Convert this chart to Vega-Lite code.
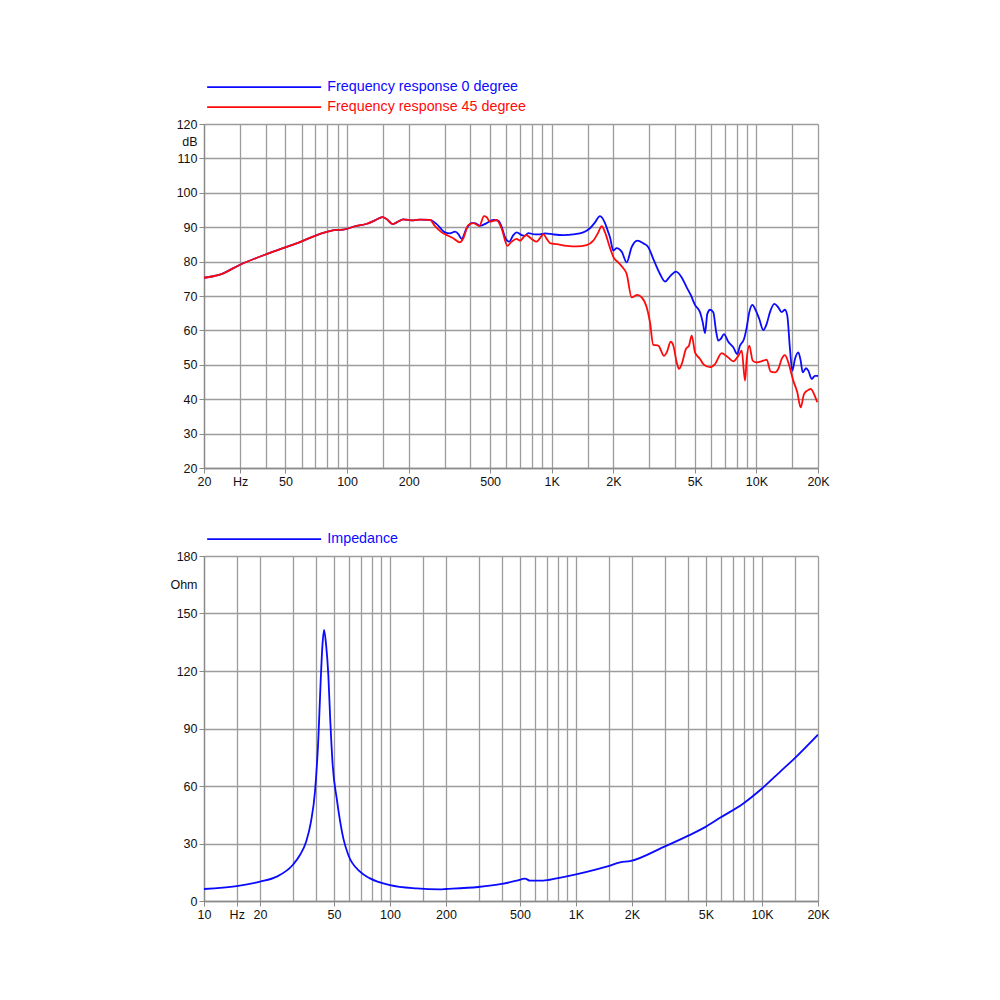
{
  "$schema": "https://vega.github.io/schema/vega-lite/v6.json",
  "padding": {"left": 169, "top": 80, "right": 5, "bottom": 5},
  "background": "white",
  "datasets": {
    "fr": [
      {"f": 20, "db": 75.3, "series": "Frequency response 0 degree"},
      {"f": 23.9, "db": 76.2, "series": "Frequency response 0 degree"},
      {"f": 30, "db": 79.1, "series": "Frequency response 0 degree"},
      {"f": 39.7, "db": 82.0, "series": "Frequency response 0 degree"},
      {"f": 50.3, "db": 84.2, "series": "Frequency response 0 degree"},
      {"f": 60, "db": 85.9, "series": "Frequency response 0 degree"},
      {"f": 69.7, "db": 87.5, "series": "Frequency response 0 degree"},
      {"f": 80.4, "db": 88.7, "series": "Frequency response 0 degree"},
      {"f": 89, "db": 89.2, "series": "Frequency response 0 degree"},
      {"f": 95.9, "db": 89.3, "series": "Frequency response 0 degree"},
      {"f": 111, "db": 90.4, "series": "Frequency response 0 degree"},
      {"f": 125, "db": 91.0, "series": "Frequency response 0 degree"},
      {"f": 137, "db": 92.0, "series": "Frequency response 0 degree"},
      {"f": 149, "db": 92.9, "series": "Frequency response 0 degree"},
      {"f": 156, "db": 92.4, "series": "Frequency response 0 degree"},
      {"f": 167, "db": 90.9, "series": "Frequency response 0 degree"},
      {"f": 175, "db": 91.4, "series": "Frequency response 0 degree"},
      {"f": 188, "db": 92.3, "series": "Frequency response 0 degree"},
      {"f": 211, "db": 92.0, "series": "Frequency response 0 degree"},
      {"f": 227, "db": 92.2, "series": "Frequency response 0 degree"},
      {"f": 254, "db": 92.1, "series": "Frequency response 0 degree"},
      {"f": 274, "db": 90.9, "series": "Frequency response 0 degree"},
      {"f": 301, "db": 88.5, "series": "Frequency response 0 degree"},
      {"f": 318, "db": 88.2, "series": "Frequency response 0 degree"},
      {"f": 337, "db": 88.7, "series": "Frequency response 0 degree"},
      {"f": 350, "db": 88.0, "series": "Frequency response 0 degree"},
      {"f": 363, "db": 86.6, "series": "Frequency response 0 degree"},
      {"f": 384, "db": 89.7, "series": "Frequency response 0 degree"},
      {"f": 406, "db": 91.2, "series": "Frequency response 0 degree"},
      {"f": 422, "db": 91.2, "series": "Frequency response 0 degree"},
      {"f": 446, "db": 90.4, "series": "Frequency response 0 degree"},
      {"f": 481, "db": 91.2, "series": "Frequency response 0 degree"},
      {"f": 518, "db": 92.1, "series": "Frequency response 0 degree"},
      {"f": 548, "db": 91.9, "series": "Frequency response 0 degree"},
      {"f": 570, "db": 90.0, "series": "Frequency response 0 degree"},
      {"f": 591, "db": 87.1, "series": "Frequency response 0 degree"},
      {"f": 620, "db": 85.8, "series": "Frequency response 0 degree"},
      {"f": 649, "db": 87.7, "series": "Frequency response 0 degree"},
      {"f": 674, "db": 88.5, "series": "Frequency response 0 degree"},
      {"f": 713, "db": 87.7, "series": "Frequency response 0 degree"},
      {"f": 740, "db": 87.5, "series": "Frequency response 0 degree"},
      {"f": 768, "db": 88.3, "series": "Frequency response 0 degree"},
      {"f": 828, "db": 87.9, "series": "Frequency response 0 degree"},
      {"f": 876, "db": 87.9, "series": "Frequency response 0 degree"},
      {"f": 927, "db": 88.2, "series": "Frequency response 0 degree"},
      {"f": 1018, "db": 87.9, "series": "Frequency response 0 degree"},
      {"f": 1139, "db": 87.7, "series": "Frequency response 0 degree"},
      {"f": 1275, "db": 87.9, "series": "Frequency response 0 degree"},
      {"f": 1427, "db": 88.5, "series": "Frequency response 0 degree"},
      {"f": 1538, "db": 89.7, "series": "Frequency response 0 degree"},
      {"f": 1627, "db": 91.4, "series": "Frequency response 0 degree"},
      {"f": 1721, "db": 93.2, "series": "Frequency response 0 degree"},
      {"f": 1821, "db": 91.2, "series": "Frequency response 0 degree"},
      {"f": 1890, "db": 88.5, "series": "Frequency response 0 degree"},
      {"f": 1926, "db": 87.1, "series": "Frequency response 0 degree"},
      {"f": 1999, "db": 83.2, "series": "Frequency response 0 degree"},
      {"f": 2076, "db": 83.9, "series": "Frequency response 0 degree"},
      {"f": 2197, "db": 82.9, "series": "Frequency response 0 degree"},
      {"f": 2324, "db": 79.8, "series": "Frequency response 0 degree"},
      {"f": 2458, "db": 84.2, "series": "Frequency response 0 degree"},
      {"f": 2618, "db": 86.1, "series": "Frequency response 0 degree"},
      {"f": 2802, "db": 85.3, "series": "Frequency response 0 degree"},
      {"f": 2964, "db": 84.2, "series": "Frequency response 0 degree"},
      {"f": 3134, "db": 80.8, "series": "Frequency response 0 degree"},
      {"f": 3381, "db": 76.4, "series": "Frequency response 0 degree"},
      {"f": 3578, "db": 74.2, "series": "Frequency response 0 degree"},
      {"f": 3784, "db": 75.7, "series": "Frequency response 0 degree"},
      {"f": 4048, "db": 77.1, "series": "Frequency response 0 degree"},
      {"f": 4316, "db": 75.4, "series": "Frequency response 0 degree"},
      {"f": 4565, "db": 72.5, "series": "Frequency response 0 degree"},
      {"f": 4777, "db": 70.3, "series": "Frequency response 0 degree"},
      {"f": 5012, "db": 67.4, "series": "Frequency response 0 degree"},
      {"f": 5302, "db": 65.3, "series": "Frequency response 0 degree"},
      {"f": 5466, "db": 62.4, "series": "Frequency response 0 degree"},
      {"f": 5610, "db": 59.2, "series": "Frequency response 0 degree"},
      {"f": 5757, "db": 64.8, "series": "Frequency response 0 degree"},
      {"f": 5934, "db": 66.0, "series": "Frequency response 0 degree"},
      {"f": 6158, "db": 65.3, "series": "Frequency response 0 degree"},
      {"f": 6348, "db": 59.9, "series": "Frequency response 0 degree"},
      {"f": 6515, "db": 57.0, "series": "Frequency response 0 degree"},
      {"f": 6693, "db": 57.5, "series": "Frequency response 0 degree"},
      {"f": 6946, "db": 58.9, "series": "Frequency response 0 degree"},
      {"f": 7290, "db": 56.7, "series": "Frequency response 0 degree"},
      {"f": 7711, "db": 55.1, "series": "Frequency response 0 degree"},
      {"f": 8068, "db": 53.1, "series": "Frequency response 0 degree"},
      {"f": 8318, "db": 55.6, "series": "Frequency response 0 degree"},
      {"f": 8700, "db": 57.5, "series": "Frequency response 0 degree"},
      {"f": 8969, "db": 60.9, "series": "Frequency response 0 degree"},
      {"f": 9235, "db": 65.3, "series": "Frequency response 0 degree"},
      {"f": 9550, "db": 67.4, "series": "Frequency response 0 degree"},
      {"f": 9954, "db": 65.7, "series": "Frequency response 0 degree"},
      {"f": 10331, "db": 63.3, "series": "Frequency response 0 degree"},
      {"f": 10807, "db": 60.1, "series": "Frequency response 0 degree"},
      {"f": 11228, "db": 61.9, "series": "Frequency response 0 degree"},
      {"f": 11652, "db": 65.3, "series": "Frequency response 0 degree"},
      {"f": 12230, "db": 67.7, "series": "Frequency response 0 degree"},
      {"f": 12794, "db": 66.7, "series": "Frequency response 0 degree"},
      {"f": 13292, "db": 65.3, "series": "Frequency response 0 degree"},
      {"f": 13794, "db": 66.0, "series": "Frequency response 0 degree"},
      {"f": 14156, "db": 64.3, "series": "Frequency response 0 degree"},
      {"f": 14592, "db": 54.6, "series": "Frequency response 0 degree"},
      {"f": 14976, "db": 48.3, "series": "Frequency response 0 degree"},
      {"f": 15438, "db": 51.7, "series": "Frequency response 0 degree"},
      {"f": 16022, "db": 53.6, "series": "Frequency response 0 degree"},
      {"f": 16460, "db": 51.2, "series": "Frequency response 0 degree"},
      {"f": 16836, "db": 47.8, "series": "Frequency response 0 degree"},
      {"f": 17474, "db": 49.0, "series": "Frequency response 0 degree"},
      {"f": 17934, "db": 48.3, "series": "Frequency response 0 degree"},
      {"f": 18632, "db": 45.9, "series": "Frequency response 0 degree"},
      {"f": 19334, "db": 46.8, "series": "Frequency response 0 degree"},
      {"f": 20000, "db": 46.8, "series": "Frequency response 0 degree"},

      {"f": 20, "db": 75.3, "series": "Frequency response 45 degree"},
      {"f": 23.9, "db": 76.2, "series": "Frequency response 45 degree"},
      {"f": 30, "db": 79.1, "series": "Frequency response 45 degree"},
      {"f": 39.7, "db": 82.0, "series": "Frequency response 45 degree"},
      {"f": 50.3, "db": 84.2, "series": "Frequency response 45 degree"},
      {"f": 60, "db": 85.9, "series": "Frequency response 45 degree"},
      {"f": 69.7, "db": 87.5, "series": "Frequency response 45 degree"},
      {"f": 80.4, "db": 88.7, "series": "Frequency response 45 degree"},
      {"f": 89, "db": 89.2, "series": "Frequency response 45 degree"},
      {"f": 95.9, "db": 89.3, "series": "Frequency response 45 degree"},
      {"f": 111, "db": 90.4, "series": "Frequency response 45 degree"},
      {"f": 125, "db": 91.0, "series": "Frequency response 45 degree"},
      {"f": 137, "db": 92.0, "series": "Frequency response 45 degree"},
      {"f": 149, "db": 92.9, "series": "Frequency response 45 degree"},
      {"f": 156, "db": 92.4, "series": "Frequency response 45 degree"},
      {"f": 167, "db": 90.9, "series": "Frequency response 45 degree"},
      {"f": 175, "db": 91.4, "series": "Frequency response 45 degree"},
      {"f": 188, "db": 92.3, "series": "Frequency response 45 degree"},
      {"f": 211, "db": 92.0, "series": "Frequency response 45 degree"},
      {"f": 227, "db": 92.2, "series": "Frequency response 45 degree"},
      {"f": 254, "db": 92.1, "series": "Frequency response 45 degree"},
      {"f": 269, "db": 90.3, "series": "Frequency response 45 degree"},
      {"f": 290, "db": 88.5, "series": "Frequency response 45 degree"},
      {"f": 312, "db": 87.5, "series": "Frequency response 45 degree"},
      {"f": 330, "db": 86.8, "series": "Frequency response 45 degree"},
      {"f": 356, "db": 85.6, "series": "Frequency response 45 degree"},
      {"f": 370, "db": 86.8, "series": "Frequency response 45 degree"},
      {"f": 391, "db": 90.6, "series": "Frequency response 45 degree"},
      {"f": 414, "db": 91.2, "series": "Frequency response 45 degree"},
      {"f": 443, "db": 90.4, "series": "Frequency response 45 degree"},
      {"f": 467, "db": 93.2, "series": "Frequency response 45 degree"},
      {"f": 481, "db": 92.9, "series": "Frequency response 45 degree"},
      {"f": 499, "db": 91.6, "series": "Frequency response 45 degree"},
      {"f": 538, "db": 92.1, "series": "Frequency response 45 degree"},
      {"f": 570, "db": 89.5, "series": "Frequency response 45 degree"},
      {"f": 607, "db": 84.6, "series": "Frequency response 45 degree"},
      {"f": 637, "db": 85.8, "series": "Frequency response 45 degree"},
      {"f": 674, "db": 86.6, "series": "Frequency response 45 degree"},
      {"f": 700, "db": 86.1, "series": "Frequency response 45 degree"},
      {"f": 749, "db": 87.7, "series": "Frequency response 45 degree"},
      {"f": 798, "db": 86.6, "series": "Frequency response 45 degree"},
      {"f": 844, "db": 85.8, "series": "Frequency response 45 degree"},
      {"f": 876, "db": 86.8, "series": "Frequency response 45 degree"},
      {"f": 910, "db": 88.0, "series": "Frequency response 45 degree"},
      {"f": 945, "db": 86.6, "series": "Frequency response 45 degree"},
      {"f": 981, "db": 85.4, "series": "Frequency response 45 degree"},
      {"f": 1058, "db": 85.1, "series": "Frequency response 45 degree"},
      {"f": 1184, "db": 84.6, "series": "Frequency response 45 degree"},
      {"f": 1324, "db": 84.4, "series": "Frequency response 45 degree"},
      {"f": 1482, "db": 84.8, "series": "Frequency response 45 degree"},
      {"f": 1596, "db": 86.1, "series": "Frequency response 45 degree"},
      {"f": 1689, "db": 88.5, "series": "Frequency response 45 degree"},
      {"f": 1754, "db": 90.3, "series": "Frequency response 45 degree"},
      {"f": 1821, "db": 88.5, "series": "Frequency response 45 degree"},
      {"f": 1926, "db": 84.0, "series": "Frequency response 45 degree"},
      {"f": 2015, "db": 81.0, "series": "Frequency response 45 degree"},
      {"f": 2114, "db": 79.8, "series": "Frequency response 45 degree"},
      {"f": 2222, "db": 78.3, "series": "Frequency response 45 degree"},
      {"f": 2324, "db": 76.4, "series": "Frequency response 45 degree"},
      {"f": 2458, "db": 69.6, "series": "Frequency response 45 degree"},
      {"f": 2618, "db": 70.3, "series": "Frequency response 45 degree"},
      {"f": 2751, "db": 69.6, "series": "Frequency response 45 degree"},
      {"f": 2911, "db": 66.7, "series": "Frequency response 45 degree"},
      {"f": 3020, "db": 62.4, "series": "Frequency response 45 degree"},
      {"f": 3134, "db": 55.8, "series": "Frequency response 45 degree"},
      {"f": 3316, "db": 55.6, "series": "Frequency response 45 degree"},
      {"f": 3537, "db": 52.6, "series": "Frequency response 45 degree"},
      {"f": 3647, "db": 53.6, "series": "Frequency response 45 degree"},
      {"f": 3813, "db": 56.7, "series": "Frequency response 45 degree"},
      {"f": 3927, "db": 55.6, "series": "Frequency response 45 degree"},
      {"f": 4080, "db": 50.7, "series": "Frequency response 45 degree"},
      {"f": 4187, "db": 48.8, "series": "Frequency response 45 degree"},
      {"f": 4316, "db": 50.2, "series": "Frequency response 45 degree"},
      {"f": 4529, "db": 54.6, "series": "Frequency response 45 degree"},
      {"f": 4685, "db": 55.6, "series": "Frequency response 45 degree"},
      {"f": 4830, "db": 58.5, "series": "Frequency response 45 degree"},
      {"f": 5012, "db": 53.6, "series": "Frequency response 45 degree"},
      {"f": 5302, "db": 51.7, "series": "Frequency response 45 degree"},
      {"f": 5504, "db": 50.2, "series": "Frequency response 45 degree"},
      {"f": 5934, "db": 49.3, "series": "Frequency response 45 degree"},
      {"f": 6277, "db": 50.2, "series": "Frequency response 45 degree"},
      {"f": 6768, "db": 53.4, "series": "Frequency response 45 degree"},
      {"f": 7290, "db": 52.1, "series": "Frequency response 45 degree"},
      {"f": 7711, "db": 51.0, "series": "Frequency response 45 degree"},
      {"f": 8160, "db": 52.6, "series": "Frequency response 45 degree"},
      {"f": 8479, "db": 54.1, "series": "Frequency response 45 degree"},
      {"f": 8800, "db": 45.4, "series": "Frequency response 45 degree"},
      {"f": 8969, "db": 51.7, "series": "Frequency response 45 degree"},
      {"f": 9235, "db": 55.6, "series": "Frequency response 45 degree"},
      {"f": 9593, "db": 51.2, "series": "Frequency response 45 degree"},
      {"f": 10032, "db": 50.7, "series": "Frequency response 45 degree"},
      {"f": 10807, "db": 51.2, "series": "Frequency response 45 degree"},
      {"f": 11228, "db": 51.5, "series": "Frequency response 45 degree"},
      {"f": 11744, "db": 48.0, "series": "Frequency response 45 degree"},
      {"f": 12326, "db": 47.8, "series": "Frequency response 45 degree"},
      {"f": 12794, "db": 48.8, "series": "Frequency response 45 degree"},
      {"f": 13292, "db": 51.7, "series": "Frequency response 45 degree"},
      {"f": 13794, "db": 52.8, "series": "Frequency response 45 degree"},
      {"f": 14316, "db": 50.7, "series": "Frequency response 45 degree"},
      {"f": 15146, "db": 45.4, "series": "Frequency response 45 degree"},
      {"f": 15842, "db": 42.0, "series": "Frequency response 45 degree"},
      {"f": 16460, "db": 37.6, "series": "Frequency response 45 degree"},
      {"f": 17084, "db": 41.5, "series": "Frequency response 45 degree"},
      {"f": 17732, "db": 42.5, "series": "Frequency response 45 degree"},
      {"f": 18424, "db": 43.0, "series": "Frequency response 45 degree"},
      {"f": 19120, "db": 41.5, "series": "Frequency response 45 degree"},
      {"f": 19840, "db": 39.1, "series": "Frequency response 45 degree"}
    ],
    "imp": [
      {"f": 10, "ohm": 6.25, "series": "Impedance"},
      {"f": 15, "ohm": 7.8, "series": "Impedance"},
      {"f": 20, "ohm": 10.1, "series": "Impedance"},
      {"f": 24.6, "ohm": 12.7, "series": "Impedance"},
      {"f": 30, "ohm": 18.8, "series": "Impedance"},
      {"f": 32.8, "ohm": 24.0, "series": "Impedance"},
      {"f": 35.4, "ohm": 30.9, "series": "Impedance"},
      {"f": 37.6, "ohm": 41.4, "series": "Impedance"},
      {"f": 39.5, "ohm": 57.0, "series": "Impedance"},
      {"f": 41.2, "ohm": 85.0, "series": "Impedance"},
      {"f": 42.4, "ohm": 115.0, "series": "Impedance"},
      {"f": 43.3, "ohm": 133.0, "series": "Impedance"},
      {"f": 44.2, "ohm": 141.5, "series": "Impedance"},
      {"f": 45.3, "ohm": 134.0, "series": "Impedance"},
      {"f": 46.6, "ohm": 118.0, "series": "Impedance"},
      {"f": 47.7, "ohm": 95.0, "series": "Impedance"},
      {"f": 49.2, "ohm": 70.8, "series": "Impedance"},
      {"f": 51.7, "ohm": 53.5, "series": "Impedance"},
      {"f": 56.1, "ohm": 32.7, "series": "Impedance"},
      {"f": 59.7, "ohm": 24.0, "series": "Impedance"},
      {"f": 69, "ohm": 15.3, "series": "Impedance"},
      {"f": 78.1, "ohm": 11.8, "series": "Impedance"},
      {"f": 100, "ohm": 8.3, "series": "Impedance"},
      {"f": 139, "ohm": 6.6, "series": "Impedance"},
      {"f": 186, "ohm": 6.1, "series": "Impedance"},
      {"f": 200, "ohm": 6.25, "series": "Impedance"},
      {"f": 298, "ohm": 7.3, "series": "Impedance"},
      {"f": 399, "ohm": 8.9, "series": "Impedance"},
      {"f": 480, "ohm": 10.6, "series": "Impedance"},
      {"f": 532, "ohm": 11.7, "series": "Impedance"},
      {"f": 566, "ohm": 10.6, "series": "Impedance"},
      {"f": 667, "ohm": 10.6, "series": "Impedance"},
      {"f": 788, "ohm": 11.8, "series": "Impedance"},
      {"f": 1000, "ohm": 13.9, "series": "Impedance"},
      {"f": 1492, "ohm": 18.2, "series": "Impedance"},
      {"f": 1725, "ohm": 20.2, "series": "Impedance"},
      {"f": 1951, "ohm": 20.8, "series": "Impedance"},
      {"f": 2947, "ohm": 28.1, "series": "Impedance"},
      {"f": 4017, "ohm": 34.1, "series": "Impedance"},
      {"f": 5000, "ohm": 38.8, "series": "Impedance"},
      {"f": 5947, "ohm": 43.4, "series": "Impedance"},
      {"f": 7937, "ohm": 50.9, "series": "Impedance"},
      {"f": 10000, "ohm": 58.7, "series": "Impedance"},
      {"f": 12500, "ohm": 67.4, "series": "Impedance"},
      {"f": 14920, "ohm": 74.3, "series": "Impedance"},
      {"f": 20000, "ohm": 86.8, "series": "Impedance"}
    ]
  },
  "spacing": 44,
  "vconcat": [
    {
      "width": 614,
      "height": 344,
      "data": {"name": "fr"},
      "mark": {"type": "line", "strokeWidth": 1.8, "interpolate": "monotone", "clip": true},
      "encoding": {
        "x": {
          "field": "f",
          "type": "quantitative",
          "scale": {"type": "log", "domain": [20, 20000], "nice": false},
          "axis": {
            "values": [20, 30, 40, 50, 60, 70, 80, 90, 100, 150, 200, 300, 400, 500, 600, 700, 800, 900, 1000, 1500, 2000, 3000, 4000, 5000, 6000, 7000, 8000, 9000, 10000, 15000, 20000],
            "labelExpr": "datum.value == 30 ? 'Hz' : indexof([20, 50, 100, 200, 500, 1000, 2000, 5000, 10000, 20000], datum.value) < 0 ? '' : datum.value >= 1000 ? (datum.value / 1000) + 'K' : '' + datum.value",
            "tickOpacity": {"condition": {"test": "indexof([20, 30, 50, 100, 200, 500, 1000, 2000, 5000, 10000, 20000], datum.value) < 0", "value": 0}, "value": 1}
          }
        },
        "y": {
          "field": "db",
          "type": "quantitative",
          "scale": {"domain": [20, 120], "nice": false, "zero": false},
          "axis": {
            "values": [20, 30, 40, 50, 60, 70, 80, 90, 100, 110, 120, 115],
            "labelExpr": "datum.value == 115 ? 'dB' : datum.label",
            "gridOpacity": {"condition": {"test": "datum.value == 115", "value": 0}, "value": 1},
            "tickOpacity": {"condition": {"test": "datum.value == 115", "value": 0}, "value": 1}
          }
        },
        "color": {
          "field": "series",
          "type": "nominal",
          "scale": {"domain": ["Frequency response 0 degree", "Frequency response 45 degree"], "range": ["#0a0aff", "#ff0a0a"]},
          "legend": {
            "orient": "none",
            "legendX": -4,
            "legendY": -44,
            "encode": {"labels": {"update": {"fill": {"signal": "datum.value === 'Frequency response 0 degree' ? '#0a0aff' : '#ff0a0a'"}}}}
          }
        }
      }
    },
    {
      "width": 614,
      "height": 345,
      "data": {"name": "imp"},
      "mark": {"type": "line", "strokeWidth": 1.8, "interpolate": "monotone", "clip": true},
      "encoding": {
        "x": {
          "field": "f",
          "type": "quantitative",
          "scale": {"type": "log", "domain": [10, 20000], "nice": false},
          "axis": {
            "values": [10, 15, 20, 30, 40, 50, 60, 70, 80, 90, 100, 150, 200, 300, 400, 500, 600, 700, 800, 900, 1000, 1500, 2000, 3000, 4000, 5000, 6000, 7000, 8000, 9000, 10000, 15000, 20000],
            "labelExpr": "datum.value == 15 ? 'Hz' : indexof([10, 20, 50, 100, 200, 500, 1000, 2000, 5000, 10000, 20000], datum.value) < 0 ? '' : datum.value >= 1000 ? (datum.value / 1000) + 'K' : '' + datum.value",
            "tickOpacity": {"condition": {"test": "indexof([10, 15, 20, 50, 100, 200, 500, 1000, 2000, 5000, 10000, 20000], datum.value) < 0", "value": 0}, "value": 1}
          }
        },
        "y": {
          "field": "ohm",
          "type": "quantitative",
          "scale": {"domain": [0, 180], "nice": false},
          "axis": {
            "values": [0, 30, 60, 90, 120, 150, 180, 165],
            "labelExpr": "datum.value == 165 ? 'Ohm' : datum.label",
            "gridOpacity": {"condition": {"test": "datum.value == 165", "value": 0}, "value": 1},
            "tickOpacity": {"condition": {"test": "datum.value == 165", "value": 0}, "value": 1}
          }
        },
        "color": {
          "field": "series",
          "type": "nominal",
          "scale": {"domain": ["Impedance"], "range": ["#0a0aff"]},
          "legend": {
            "orient": "none",
            "legendX": -4,
            "legendY": -24,
            "encode": {"labels": {"update": {"fill": {"value": "#0a0aff"}}}}
          }
        }
      }
    }
  ],
  "resolve": {
    "scale": {"x": "independent", "y": "independent", "color": "independent"},
    "legend": {"color": "independent"}
  },
  "config": {
    "font": "Liberation Sans",
    "view": {"stroke": null},
    "axis": {
      "title": null,
      "labelFont": "Liberation Sans",
      "labelFontSize": 12.5,
      "labelColor": "#111111",
      "labelOverlap": false,
      "labelFlush": false,
      "labelBound": false,
      "grid": true,
      "gridColor": "#9c9c9c",
      "gridWidth": 1.3,
      "domainColor": "#8a8a8a",
      "domainWidth": 1.3,
      "tickColor": "#8a8a8a",
      "tickSize": 5,
      "labelPadding": 2
    },
    "legend": {
      "title": null,
      "symbolType": "M0,0H114",
      "symbolSize": 4,
      "symbolStrokeWidth": 1.8,
      "labelFont": "Liberation Sans",
      "labelFontSize": 14.3,
      "labelOffset": 113,
      "labelLimit": 0,
      "rowPadding": 5,
      "padding": 0
    }
  }
}
